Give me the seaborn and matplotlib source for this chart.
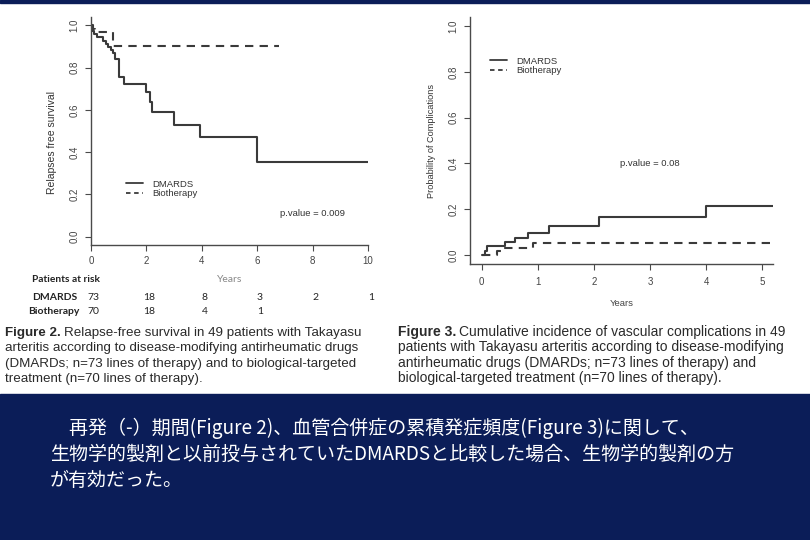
import pandas as pd
import seaborn as sns
import matplotlib.pyplot as plt
from matplotlib.patches import Rectangle
from matplotlib.transforms import blended_transform_factory

# Figure 2: relapse free survival (step curves)
dm_time = [0, 0.04, 0.12, 0.2, 0.44, 0.53, 0.62, 0.72, 0.8, 0.86, 1.0, 1.2,
           2.0, 2.12, 2.22, 3.0, 3.92, 6.0, 10.0]
dm_surv = [1.0, 0.975, 0.958, 0.943, 0.927, 0.913, 0.899, 0.884, 0.869, 0.843,
           0.758, 0.724, 0.686, 0.638, 0.588, 0.529, 0.471, 0.353, 0.353]
bio_time = [0, 0.06, 0.15, 0.8, 6.77]
bio_surv = [1.0, 0.985, 0.97, 0.903, 0.903]

# Figure 3: cumulative incidence of vascular complications
dm_time3 = [0, 0.05, 0.09, 0.41, 0.59, 0.83, 1.2, 2.09, 4.0, 5.2]
dm_inc = [0, 0.015, 0.04, 0.057, 0.075, 0.096, 0.128, 0.167, 0.215, 0.215]
bio_time3 = [0, 0.27, 0.36, 0.92, 5.2]
bio_inc = [0, 0.015, 0.03, 0.052, 0.052]

groups = ['DMARDS', 'Biotherapy']
y_ticks = [0.0, 0.2, 0.4, 0.6, 0.8, 1.0]
x_ticks2 = [0, 2, 4, 6, 8, 10]
x_ticks3 = [0, 1, 2, 3, 4, 5]

# patients at risk table
risk_years_dm = [0, 2, 4, 6, 8, 10]
risk_dm = [73, 18, 8, 3, 2, 1]
risk_years_bio = [0, 2, 4, 6]
risk_bio = [70, 18, 4, 1]

cap2 = ['Relapse-free survival in 49 patients with Takayasu',
        'arteritis according to disease-modifying antirheumatic drugs',
        '(DMARDs; n=73 lines of therapy) and to biological-targeted',
        'treatment (n=70 lines of therapy).']
cap3 = ['Cumulative incidence of vascular complications in 49',
        'patients with Takayasu arteritis according to disease-modifying',
        'antirheumatic drugs (DMARDs; n=73 lines of therapy) and',
        'biological-targeted treatment (n=70 lines of therapy).']
jp_lines = ['\u3000再発（-）期間(Figure 2)、血管合併症の累積発症頻度(Figure 3)に関して、',
            '生物学的製剤と以前投与されていたDMARDSと比較した場合、生物学的製剤の方',
            'が有効だった。']

NAVY = '#0b1d58'
LINE = '#3a3a3a'
AX = '#4a4a4a'

sns.set_style('white')
plt.rcParams['font.family'] = ['Liberation Sans', 'DejaVu Sans']

W, H = 810, 540
fig = plt.figure(figsize=(8.1, 5.4), dpi=100)


def fx(x):
    return x / W


def fy(y):
    return 1 - y / H


def px_axes(x0, y0, x1, y1):
    return fig.add_axes([fx(x0), fy(y1), (x1 - x0) / W, (y1 - y0) / H])


# background pieces of the slide
fig.add_artist(Rectangle((0, 0), 1, fy(394), transform=fig.transFigure,
                         color=NAVY, zorder=0))
fig.add_artist(Rectangle((0, fy(2.5)), 1, 2.5 / H, transform=fig.transFigure,
                         color=NAVY, zorder=0))

df2 = pd.concat([
    pd.DataFrame({'time': dm_time, 'value': dm_surv, 'group': groups[0]}),
    pd.DataFrame({'time': bio_time, 'value': bio_surv, 'group': groups[1]}),
])
df3 = pd.concat([
    pd.DataFrame({'time': dm_time3, 'value': dm_inc, 'group': groups[0]}),
    pd.DataFrame({'time': bio_time3, 'value': bio_inc, 'group': groups[1]}),
])

ax1 = px_axes(91, 17, 368, 245)
ax2 = px_axes(470, 17, 773, 264)

for ax, df, xlim, xt, xpad in [(ax1, df2, (0, 10), x_ticks2, 4.0),
                               (ax2, df3, (-0.21, 5.19), x_ticks3, 5.5)]:
    sns.lineplot(data=df, x='time', y='value', hue='group', style='group',
                 palette={g: LINE for g in groups},
                 dashes={groups[0]: '', groups[1]: (4, 3)},
                 drawstyle='steps-post', estimator=None, sort=False,
                 lw=1.5, ax=ax)
    ax.set_xlim(*xlim)
    ax.set_ylim(-0.04, 1.04)
    ax.set_xticks(xt)
    ax.set_xticklabels([str(v) for v in xt])
    ax.set_yticks(y_ticks)
    ax.set_yticklabels(['%.1f' % v for v in y_ticks])
    ax.set_xlabel('')
    ax.set_ylabel('')
    ax.set_facecolor('none')
    for s in ['top', 'right']:
        ax.spines[s].set_visible(False)
    for s in ['left', 'bottom']:
        ax.spines[s].set_color(AX)
        ax.spines[s].set_linewidth(1.0)
    ax.tick_params(direction='out', length=4, width=0.8, color=AX,
                   labelsize=7, labelcolor='#444444', left=True, bottom=True)
    ax.tick_params(axis='x', pad=xpad)
    ax.tick_params(axis='y', labelrotation=90, pad=4.2)
    for lab in ax.get_yticklabels():
        lab.set_va('center')

# legends, R style without frame
for ax, x0, y0 in [(ax1, 126, 179.5), (ax2, 490, 56.5)]:
    handles, labels = ax.get_legend_handles_labels()
    leg = ax.legend(handles, labels, frameon=False, loc='upper left',
                    bbox_to_anchor=(fx(x0), fy(y0)), bbox_transform=fig.transFigure,
                    fontsize=6.8, handlelength=1.8, handletextpad=1.0,
                    labelspacing=0.1, borderpad=0, borderaxespad=0)
    for h, t in zip(leg.get_lines(), leg.get_texts()):
        h.set_linewidth(1.3)
        t.set_color('#333333')
        if t.get_text() == groups[1]:
            h.set_dashes((2.5, 2))

ax1.text(8.0, 0.11, 'p.value = 0.009', ha='center', va='center',
         fontsize=6.8, color='#333333')
ax2.text(3.0, 0.40, 'p.value = 0.08', ha='center', va='center',
         fontsize=6.8, color='#333333')

# axis labels
fig.text(fx(52), fy(142), 'Relapses free survival', rotation=90,
         ha='center', va='center', fontsize=7.5, color='#333333')
fig.text(fx(432), fy(141), 'Probability of Complications', rotation=90,
         ha='center', va='center', fontsize=6.6, color='#333333')
fig.text(fx(622), fy(303), 'Years', ha='center', va='center',
         fontsize=6.8, color='#444444')

# patients at risk
tab = ['Lato', 'DejaVu Sans']
fig.text(fx(32), fy(279), 'Patients at risk', ha='left', va='center',
         fontsize=7.3, fontweight='bold', family=tab, color='#222222')
fig.text(fx(230), fy(280), 'Years', ha='center', va='center',
         fontsize=7.5, family=tab, color='#888888')
fig.text(fx(32), fy(297), 'DMARDS', ha='left', va='center',
         fontsize=7.5, fontweight='bold', family=tab, color='#222222')
fig.text(fx(28), fy(311), 'Biotherapy', ha='left', va='center',
         fontsize=7.5, fontweight='bold', family=tab, color='#222222')
blend = blended_transform_factory(ax1.transData, fig.transFigure)
for x, n in zip(risk_years_dm, risk_dm):
    ax1.text(x + 0.1, fy(297), str(n), transform=blend, ha='center',
             va='center', fontsize=7.5, family=tab, color='#222222')
for x, n in zip(risk_years_bio, risk_bio):
    ax1.text(x + 0.1, fy(311), str(n), transform=blend, ha='center',
             va='center', fontsize=7.5, family=tab, color='#222222')

# captions with bold figure number
fig.canvas.draw()
renderer = fig.canvas.get_renderer()
for x0, base, head, lines, fs in [(5, 336, 'Figure 2.', cap2, 9.6),
                                  (398, 336, 'Figure 3.', cap3, 10.0)]:
    t = fig.text(fx(x0), fy(base), head, fontsize=fs, fontweight='bold',
                 va='baseline', color='#2a2a2a')
    bb = t.get_window_extent(renderer)
    fig.text(bb.x1 / W + fx(3), fy(base), lines[0], fontsize=fs,
             va='baseline', color='#2a2a2a')
    for i, line in enumerate(lines[1:]):
        fig.text(fx(x0), fy(base + 15.3 * (i + 1)), line, fontsize=fs,
                 va='baseline', color='#2a2a2a')

# japanese summary on the navy box
for i, line in enumerate(jp_lines):
    fig.text(fx(50), fy(428 + 26.5 * i), line, ha='left', va='center',
             fontsize=13.7, color='white',
             family=['Noto Sans CJK JP', 'DejaVu Sans'])

fig.savefig('out.png', dpi=100)
